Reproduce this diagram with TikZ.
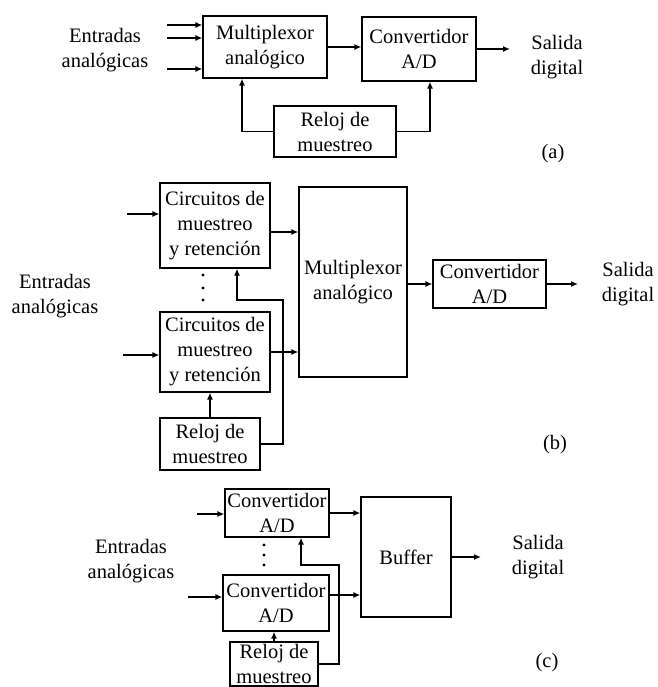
\documentclass[tikz,border=0pt]{standalone}
\usepackage{fontspec}
\setmainfont{Liberation Serif}
\usetikzlibrary{arrows.meta}

\begin{document}
\begin{tikzpicture}[x=1pt, y=-1pt, line width=1.3pt, >={Latex[length=7pt,width=6pt]},
  every node/.style={font=\fontsize{20.5}{25}\selectfont},
  blk/.style={draw, inner sep=0pt, align=center},
  lbl/.style={align=center, inner sep=0pt}]
\useasboundingbox (0,0) rectangle (657,687);
%\draw[help lines] (0,0) grid[step=50] (657,687);

% (a)
\node[lbl] (enta) at (105,50) {Entradas\\analógicas};
\node[blk, minimum width=124pt, minimum height=62pt] (muxa) at (265,47) {Multiplexor\\analógico};
\node[blk, minimum width=114pt, minimum height=64pt] (conva) at (419,49) {Convertidor\\A/D};
\node[blk, minimum width=122pt, minimum height=51pt] (reloja) at (335,131.5) {Reloj de\\muestreo};
\node[lbl] (sala) at (557,57) {Salida\\digital};
\node[lbl] (la) at (553,154) {(a)};
\coordinate (ia1) at (167,25);
\coordinate (ia2) at (167,38);
\coordinate (ia3) at (167,69);
\coordinate (oa) at (510,49);
\foreach \i in {ia1,ia2,ia3}
  \draw [->] (\i) -- (\i -| muxa.west);
\draw [->] (muxa.east) -- (muxa.east -| conva.west);
\draw [->] (conva.east) -- (oa);
\draw [->] (reloja.west) -| ([xshift=-23pt]muxa.south);
\draw [->] (reloja.east) -| ([xshift=11pt]conva.south);

% (b)
\node[lbl] (entb) at (55,296) {Entradas\\analógicas};
\node[blk, minimum width=110pt, minimum height=85pt] (smp1) at (215,225.5) {Circuitos de\\muestreo\\y retención};
\node[blk, minimum width=110pt, minimum height=80pt] (smp2) at (215,352) {Circuitos de\\muestreo\\y retención};
\node[blk, minimum width=108pt, minimum height=190pt] (muxb) at (353,282) {Multiplexor\\analógico};
\node[blk, minimum width=113pt, minimum height=48pt] (convb) at (489.5,284) {Convertidor\\A/D};
\node[blk, minimum width=100pt, minimum height=52pt] (relojb) at (210,444) {Reloj de\\muestreo};
\node[lbl] (salb) at (628,284) {Salida\\digital};
\node[lbl] (lb) at (555,445) {(b)};
\coordinate (ib1) at (127,214);
\coordinate (ib2) at (123,355);
\coordinate (pb1) at ([yshift=-6.5pt]smp1.east);
\coordinate (ob) at (578,284);
\coordinate (kb) at (283,300);
\draw [->] (ib1) -- (ib1 -| smp1.west);
\draw [->] (ib2) -- (ib2 -| smp2.west);
\draw [->] (pb1) -- (pb1 -| muxb.west);
\draw [->] (smp2.east) -- (smp2.east -| muxb.west);
\draw [->] (muxb.east |- convb.west) -- (convb.west);
\draw [->] (convb.east) -- (ob);
\draw [->] (relojb.north) -- (relojb.north |- smp2.south);
\draw [->] (relojb.east) -| (kb) -| ([xshift=22pt]smp1.south);
\foreach \y in {275,288,300}
  \fill (203,\y) circle (1.6pt);

% (c)
\node[lbl] (entc) at (131,561) {Entradas\\analógicas};
\node[blk, minimum width=104pt, minimum height=48pt] (adc1) at (277,513) {Convertidor\\A/D};
\node[blk, minimum width=106pt, minimum height=56pt] (adc2) at (276,603) {Convertidor\\A/D};
\node[blk, minimum width=90pt, minimum height=120pt] (buf) at (406,557) {Buffer};
\node[blk, minimum width=88pt, minimum height=44pt] (relojc) at (274,664) {Reloj de\\muestreo};
\node[lbl] (salc) at (538,557) {Salida\\digital};
\node[lbl] (lc) at (547,663) {(c)};
\coordinate (ic1) at (197,514);
\coordinate (ic2) at (188,597);
\coordinate (pc2) at ([yshift=8pt]adc2.east);
\coordinate (oc) at (481,557);
\coordinate (kc) at (339,565);
\draw [->] (ic1) -- (ic1 -| adc1.west);
\draw [->] (ic2) -- (ic2 -| adc2.west);
\draw [->] (adc1.east) -- (adc1.east -| buf.west);
\draw [->] (pc2) -- (pc2 -| buf.west);
\draw [->] (buf.east) -- (oc);
\draw [->] (relojc.north) -- (relojc.north |- adc2.south);
\draw [->] (relojc.east) -| (kc) -| ([xshift=24pt]adc1.south);
\foreach \y in {545,555,565}
  \fill (264,\y) circle (1.6pt);
\end{tikzpicture}
\end{document}
